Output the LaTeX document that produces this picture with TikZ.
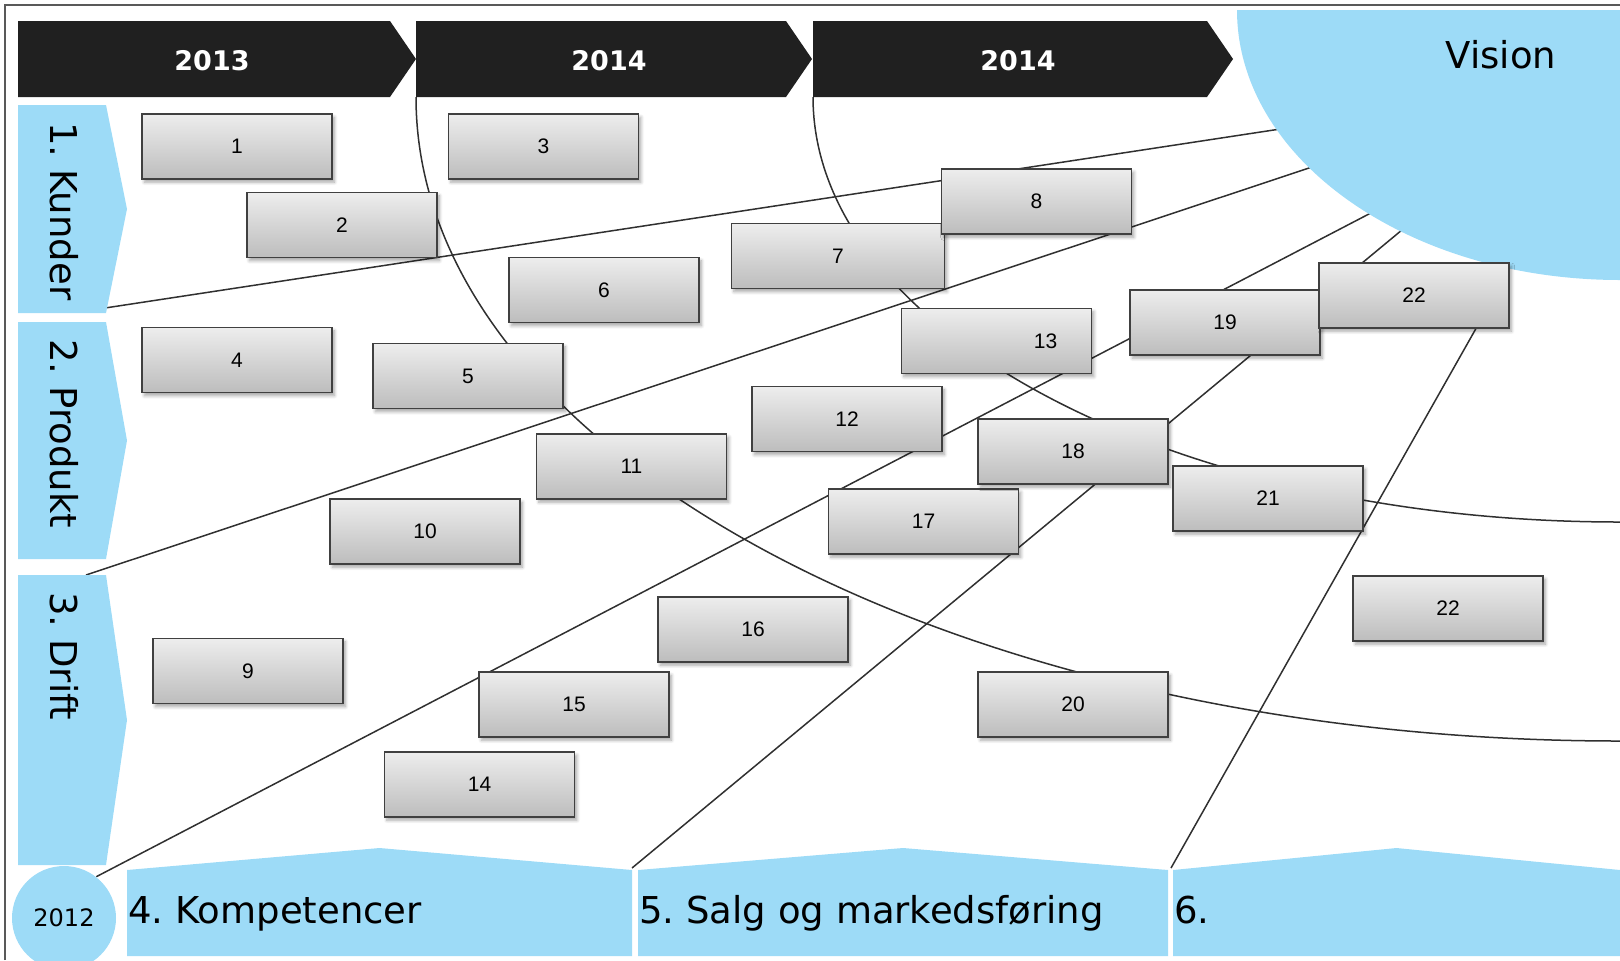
\documentclass[tikz,border=0pt]{standalone}
\usepackage{fontspec}
\setmainfont{DejaVu Sans}
\newfontfamily\numfont{Liberation Sans}
\usetikzlibrary{shadows.blur}
\definecolor{skyblue}{HTML}{9DDBF7}
\definecolor{barblack}{HTML}{202020}
\definecolor{linegray}{HTML}{303030}
\pgfdeclarelayer{back}
\pgfsetlayers{back,main}
\frenchspacing

\begin{document}
\begin{tikzpicture}[x=0.5pt, y=-0.5pt,
		lane/.style={fill=skyblue},
		yearbar/.style={fill=barblack},
		yeartext/.style={text=white, font=\bfseries\fontsize{13.5}{16}\selectfont},
		bigtext/.style={font=\fontsize{18.5}{22}\selectfont, inner sep=0pt},
		link/.style={draw=linegray, line width=0.75pt},
		box/.style={draw=black!75, line width=0.8pt, top color=black!7, bottom color=black!26,
			minimum width=95pt, minimum height=32.5pt, inner sep=0pt,
			font=\numfont\fontsize{10.5}{12}\selectfont,
			blur shadow={shadow xshift=1.2pt, shadow yshift=-1.6pt, shadow blur radius=1.6pt, shadow blur steps=6, shadow opacity=35}}]
			\useasboundingbox (0,0) rectangle (1620,960);
			\draw[black!65, line width=0.7pt] (5,960) -- (5,5) -- (1620,5);

			\foreach \x/\w/\t [count=\i] in {18/372/2013, 416/370/2014, 813/394/2014} {
				\fill[yearbar] (\x,21) -- ++(\w,0) -- ++(26,38) -- ++(-26,38) -- ++(-\w,0) -- cycle;
				\node[yeartext] (yr\i) at (\x+\w/2+8,61) {\t};
				\coordinate (yr\i-foot) at (\x,97);
			}

			\foreach \t/\b/\txt [count=\i] in {105/313/1. Kunder, 322/559/2. Produkt, 575/865/3. Drift} {
				\fill[lane] (18,\t) -- (106,\t) -- (127,{(\t+\b)/2}) -- (106,\b) -- (18,\b) -- cycle;
				\node[bigtext, rotate=-90, anchor=west] (side\i) at (64,\t+17) {\txt};
			}

			\foreach \l/\r/\txt [count=\i from 4] in {127/632/4. Kompetencer, 638/1168/5. Salg og markedsføring, 1173/1620/6.} {
				\fill[lane] (\l,956) -- (\l,870) -- ({(\l+\r)/2},848) -- (\r,870) -- (\r,956) -- cycle;
				\node[bigtext, anchor=base west] (area\i) at (\l+1,923) {\txt};
			}

			\begin{scope}
				\clip (0,10) rectangle (1620,960);
				\fill[skyblue] (1620,10) ellipse [x radius=383, y radius=270];
			\end{scope}
			\node[bigtext] (vision) at (1501,55) {Vision};

			\node[circle, fill=skyblue, minimum size=52pt, inner sep=0pt, font=\fontsize{12}{14}\selectfont] (start) at (64,918) {2012};

			\foreach \n/\x/\y in {1/237/146.5, 2/342/225, 3/543.5/146.5, 4/237/360, 5/468/376, 6/604/290} {
				\node[box] (b\n) at (\x,\y) {\n};
			}
			\node[box, minimum width=106.5pt] (b7) at (838,256) {7};
			\foreach \n/\x/\y in {8/1036.5/201.5, 9/248/671, 10/425/531.5, 11/631.5/466.5, 12/847/419} {
				\node[box] (b\n) at (\x,\y) {\n};
			}
			\node[box] (b13) at (996.5,341) {\hspace*{49pt}13};
			\foreach \n/\x/\y in {14/479.5/784.5, 15/574/704.5, 16/753/629.5, 17/923.5/521.5, 18/1073/451.5, 19/1225/322.5, 20/1073/704.5, 21/1268/498.5} {
				\node[box] (b\n) at (\x,\y) {\n};
			}
			\node[box] (b22a) at (1414,295.5) {22};
			\node[box] (b22b) at (1448,608.5) {22};

			\coordinate (kunder) at (105,308);
			\coordinate (drift) at (86,575);
			\coordinate (gap45) at (632,868);
			\coordinate (gap56) at (1171,868);
			\coordinate (v1) at (1300,126);
			\coordinate (v2) at (1330,161);
			\coordinate (v3) at (1390,203);
			\coordinate (v4) at (1420,215);
			\coordinate (rim1) at (1620,741);
			\coordinate (rim2) at (1620,522);

			\begin{pgfonlayer}{back}
				\draw[link] (kunder) -- (v1);
				\draw[link] (drift) -- (v2);
				\draw[link] (start.52) -- (v3);
				\draw[link] (gap45) -- (v4);
				\draw[link] ([xshift=-17pt]b22a.south east) -- (gap56);
				\draw[link] (yr2-foot) .. controls +(0,356) and +(-665,0) .. (rim1);
				\draw[link] (yr3-foot) .. controls +(0,235) and +(-446,0) .. (rim2);
			\end{pgfonlayer}
		\end{tikzpicture}
\end{document}
